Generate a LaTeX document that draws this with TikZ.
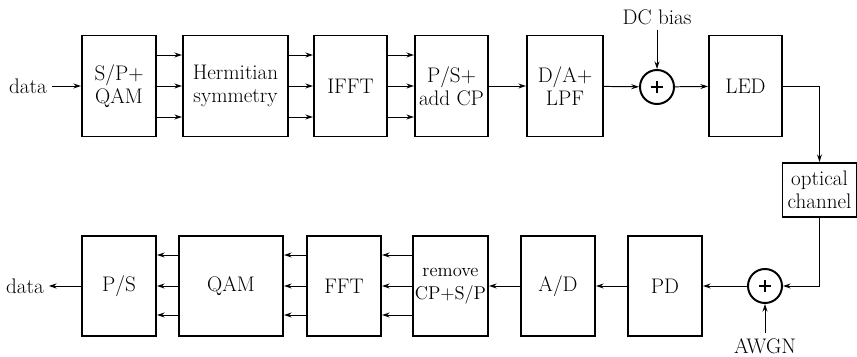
\documentclass[tikz,border=0pt]{standalone}
\usetikzlibrary{arrows.meta,positioning,calc}
\newcommand{\pxl}{0.025cm}
\tikzset{blk/.style={draw,line width=1.4pt,align=center,inner sep=0pt,minimum height=101*\pxl,minimum width=74*\pxl},
	adder/.style={circle,draw,line width=1.4pt,minimum size=34*\pxl,inner sep=0pt,
		path picture={\draw[line width=1.9pt]
			([xshift=-4.6pt]path picture bounding box.center) -- ([xshift=4.6pt]path picture bounding box.center)
			([yshift=-4.6pt]path picture bounding box.center) -- ([yshift=4.6pt]path picture bounding box.center);}},
	arr/.style={->,line width=0.7pt}}

\begin{document}
\begin{tikzpicture}[x=\pxl,y=-\pxl,font=\fontsize{15}{16.5}\selectfont,>={Stealth[length=5.5pt,width=3.6pt]}]
	\useasboundingbox (0,0) rectangle (857,356);
	% transmitter
	\node[blk] (sp) at (119,86) {S/P+\\QAM};
	\node[blk,minimum width=105*\pxl] (herm) at (235.5,86) {Hermitian\\symmetry};
	\node[blk,minimum width=73*\pxl] (ifft) at (350.5,86) {IFFT};
	\node[blk,minimum width=73*\pxl] (ps) at (451.5,86) {P/S+\\add CP};
	\node[blk,minimum width=76*\pxl] (da) at (565,86) {D/A+\\LPF};
	\node[adder] (s1) at (657,87) {};
	\node[blk,minimum width=73*\pxl] (led) at (745.5,86) {LED};
	\node (din) at (28,86) {data};
	\node (dc) at (657,17) {DC bias};
	% channel
	\node[blk,minimum height=54*\pxl] (oc) at (819.5,190) {optical\\channel};
	% receiver
	\node[adder] (s2) at (765,286) {};
	\node[blk,minimum height=100*\pxl] (pd) at (665,286) {PD};
	\node[blk,minimum height=100*\pxl] (ad) at (558,286) {A/D};
	\node[blk,minimum height=100*\pxl,minimum width=75*\pxl,font=\fontsize{13.2}{16.5}\selectfont] (rm) at (450.5,286) {remove\\CP+S/P};
	\node[blk,minimum height=100*\pxl] (fft) at (344,286) {FFT};
	\node[blk,minimum height=100*\pxl,minimum width=104*\pxl] (qam) at (231,286) {QAM};
	\node[blk,minimum height=100*\pxl] (pss) at (119,286) {P/S};
	\node (dout) at (25,286) {data};
	\node (awgn) at (765,346) {AWGN};

	\draw[arr] (din) -- (sp);
	\foreach \a/\b in {sp/herm,herm/ifft,ifft/ps}
		\foreach \dy in {-31,0,31}
			\draw[arr] ([yshift=\dy*\pxl]\a.east) -- ([yshift=\dy*\pxl]\b.west);
	\draw[arr] (ps) -- (da);
	\draw[arr] (da) -- (s1);
	\draw[arr] (dc) -- (s1);
	\draw[arr] (s1) -- (led);
	\draw[arr] (led.east) -| (oc.north);
	\draw[arr] (oc.south) |- (s2.east);
	\draw[arr] (awgn) -- (s2);
	\draw[arr] (s2) -- (pd);
	\draw[arr] (pd) -- (ad);
	\draw[arr] (ad) -- (rm);
	\foreach \a/\b in {rm/fft,fft/qam,qam/pss}
		\foreach \dy in {-29,0,31}
			\draw[arr] ([yshift=\dy*\pxl]\a.west) -- ([yshift=\dy*\pxl]\b.east);
	\draw[arr] (pss) -- (dout);
\end{tikzpicture}
\end{document}
